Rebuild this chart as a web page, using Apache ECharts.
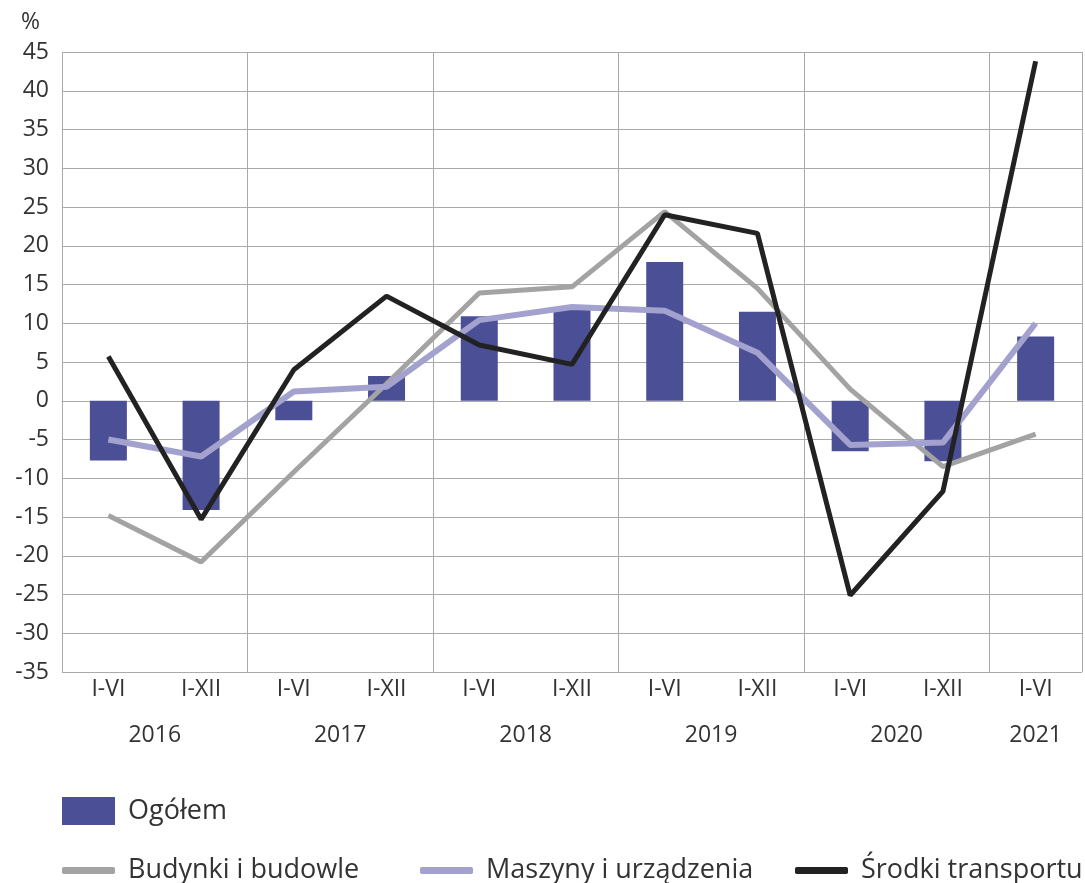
<!DOCTYPE html>
<html>
<head>
<meta charset="utf-8">
<script src="https://cdn.jsdelivr.net/npm/echarts@6/dist/echarts.min.js"></script>
<style>
html,body{margin:0;padding:0;background:#fff;}
#chart{width:1085px;height:883px;}
</style>
</head>
<body>
<div id="chart"></div>
<script>
const categories = ['I-VI','I-XII','I-VI','I-XII','I-VI','I-XII','I-VI','I-XII','I-VI','I-XII','I-VI'];
const years = ['2016','2017','2018','2019','2020','2021'];
const yearPos = [1, 3, 5, 7, 9, 10.5];
const ogolem = [-7.7, -14.1, -2.5, 3.2, 10.9, 11.7, 17.9, 11.5, -6.5, -7.8, 8.3];
const budynki = [-14.8, -20.8, -9.2, 2.2, 13.9, 14.7, 24.4, 14.5, 1.5, -8.5, -4.3];
const maszyny = [-5.0, -7.2, 1.2, 1.8, 10.4, 12.1, 11.6, 6.2, -5.7, -5.4, 10.0];
const transport = [5.7, -15.3, 4.0, 13.5, 7.2, 4.7, 24.0, 21.6, -25.1, -11.7, 43.8];

const FONT = '"Open Sans", "Noto Sans", sans-serif';
const TXT = '#333333';
const GRID = '#aaaaaa';
const AX = 23;
const LG = 27;

const chart = echarts.init(document.getElementById('chart'));
function lg(name, icon, left, top, h) {
  return {
    data: [{ name: name, icon: icon }],
    left: left, top: top, padding: 0, itemWidth: 53, itemHeight: h,
    textStyle: { fontFamily: FONT, fontSize: LG, color: TXT, padding: [0, 0, 0, 8] }
  };
}
chart.setOption({
  animation: false,
  backgroundColor: '#ffffff',
  textStyle: { fontFamily: FONT },
  title: {
    text: '%', left: 16, top: 6,
    textStyle: { fontFamily: FONT, fontSize: AX, fontWeight: 'normal', color: TXT }
  },
  grid: { left: 62, right: 0, top: 52, bottom: 211, containLabel: false },
  legend: [
    lg('Ogółem', 'rect', 62, 797, 28),
    lg('Budynki i budowle', 'roundRect', 62, 857, 7),
    lg('Maszyny i urządzenia', 'roundRect', 420, 857, 7),
    lg('Środki transportu', 'roundRect', 795, 857, 7)
  ],
  xAxis: [
    {
      type: 'category',
      data: categories,
      boundaryGap: true,
      position: 'bottom',
      axisLine: { show: true, lineStyle: { color: GRID, width: 1 } },
      axisTick: { show: true, interval: function (i) { return i % 2 === 0; }, length: 78, lineStyle: { color: GRID, width: 1 } },
      splitLine: { show: true, interval: function (i) { return i % 2 === 0; }, lineStyle: { color: GRID, width: 1 } },
      axisLabel: { interval: 0, margin: 6, fontFamily: FONT, fontSize: AX, color: TXT }
    },
    {
      type: 'value',
      min: 0, max: 11, interval: 0.5,
      position: 'bottom',
      axisLine: { show: false },
      axisTick: { show: false },
      splitLine: { show: false },
      axisLabel: {
        margin: 52, fontFamily: FONT, fontSize: AX, color: TXT,
        showMinLabel: true, showMaxLabel: true,
        formatter: function (v) {
          for (let k = 0; k < yearPos.length; k++) {
            if (Math.abs(yearPos[k] - v) < 1e-6) return years[k];
          }
          return '';
        }
      }
    }
  ],
  yAxis: {
    type: 'value',
    min: -35, max: 45, interval: 5,
    axisLine: { show: false },
    axisTick: { show: false },
    splitLine: { show: true, lineStyle: { color: GRID, width: 1 } },
    axisLabel: { margin: 13, fontFamily: FONT, fontSize: AX, color: TXT }
  },
  series: [
    {
      name: 'Ogółem', type: 'bar', data: ogolem, barWidth: 37,
      itemStyle: { color: '#4b5096' }, z: 2
    },
    {
      name: 'Budynki i budowle', type: 'line', data: budynki,
      symbol: 'none', lineStyle: { color: '#a3a3a3', width: 5 }, itemStyle: { color: '#a3a3a3' }, z: 3
    },
    {
      name: 'Maszyny i urządzenia', type: 'line', data: maszyny,
      symbol: 'none', lineStyle: { color: '#a3a2cf', width: 6 }, itemStyle: { color: '#a3a2cf' }, z: 4
    },
    {
      name: 'Środki transportu', type: 'line', data: transport,
      symbol: 'none', lineStyle: { color: '#222222', width: 5 }, itemStyle: { color: '#222222' }, z: 5
    }
  ]
});
</script>
</body>
</html>
